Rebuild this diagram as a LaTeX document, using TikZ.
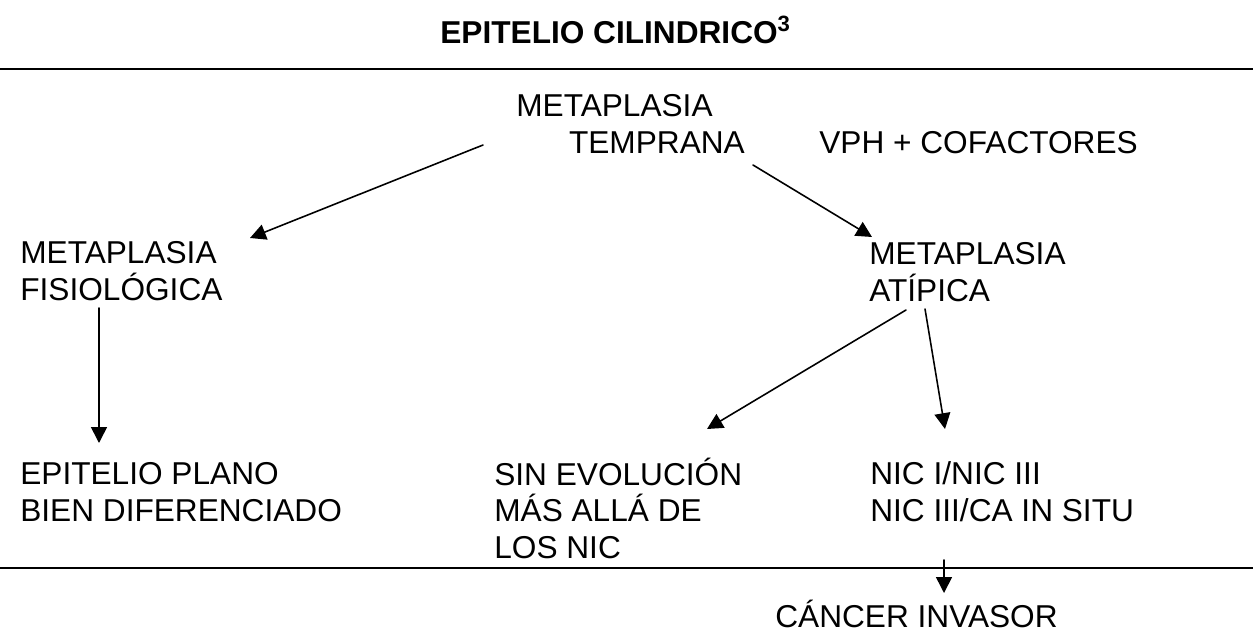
\documentclass[tikz,border=0pt]{standalone}
\usepackage{fontspec}
\setmainfont{Liberation Sans}
\usetikzlibrary{arrows.meta}

\begin{document}
\begin{tikzpicture}[x=0.02cm,y=-0.02cm,line cap=round,
  >={Triangle[length=9pt,width=9pt]},
  txt/.style={anchor=base west,inner sep=0pt,align=left,
    font=\fontsize{18}{20.5}\selectfont}]
  \useasboundingbox (0,0) rectangle (1253,632);
  % titulo y lineas
  \node[txt,font=\bfseries\fontsize{18}{20.5}\selectfont] (titulo) at (440,43) {EPITELIO CILINDRICO\textsuperscript{3}};
  \draw[line width=1pt] (0,69) -- (1253,69);      % arriba
  \draw[line width=1pt] (0,568) -- (1253,568);    % abajo
  % textos (base = ultima linea)
  \node[txt] (temprana) at (516,153) {METAPLASIA\\\hspace*{30pt}TEMPRANA};
  \node[txt] (vph) at (819,153) {VPH + COFACTORES};
  \node[txt] (fisio) at (20,300) {METAPLASIA\\FISIOLÓGICA};
  \node[txt] (atipica) at (869,301) {METAPLASIA\\ATÍPICA};
  \node[txt] (plano) at (20,521) {EPITELIO PLANO\\BIEN DIFERENCIADO};
  \node[txt] (sinevol) at (494,558) {SIN EVOLUCIÓN\\MÁS ALLÁ DE\\LOS NIC};
  \node[txt] (nic) at (870,521) {NIC I/NIC III\\NIC III/CA IN SITU};
  \node[txt,text depth=0pt] (cancer) at (775,627) {CÁNCER INVASOR};
  % puntos de las flechas
  \coordinate (t1) at (483,145);  \coordinate (f1) at (250,238);
  \coordinate (t2) at (753,165);  \coordinate (a1) at (872,237);
  \coordinate (f2) at (99,308);   \coordinate (p1) at (99,443);
  \coordinate (a2) at (906,310);  \coordinate (s1) at (707,429);
  \coordinate (a3) at (925,309);  \coordinate (n1) at (945,429);
  \coordinate (n2) at (944,560);  \coordinate (c1) at (944,593);
  % flechas
  \draw [->,line width=0.9pt] (t1) -- (f1);   % temprana - fisiologica
  \draw [->,line width=0.9pt] (t2) -- (a1);   % temprana - atipica
  \draw [->,line width=0.9pt] (f2) -- (p1);   % fisiologica - plano
  \draw [->,line width=0.9pt] (a2) -- (s1);   % atipica - sin evolucion
  \draw [->,line width=0.9pt] (a3) -- (n1);   % atipica - nic
  \draw [->,line width=0.9pt] (n2) -- (c1);   % nic - cancer
\end{tikzpicture}
\end{document}
